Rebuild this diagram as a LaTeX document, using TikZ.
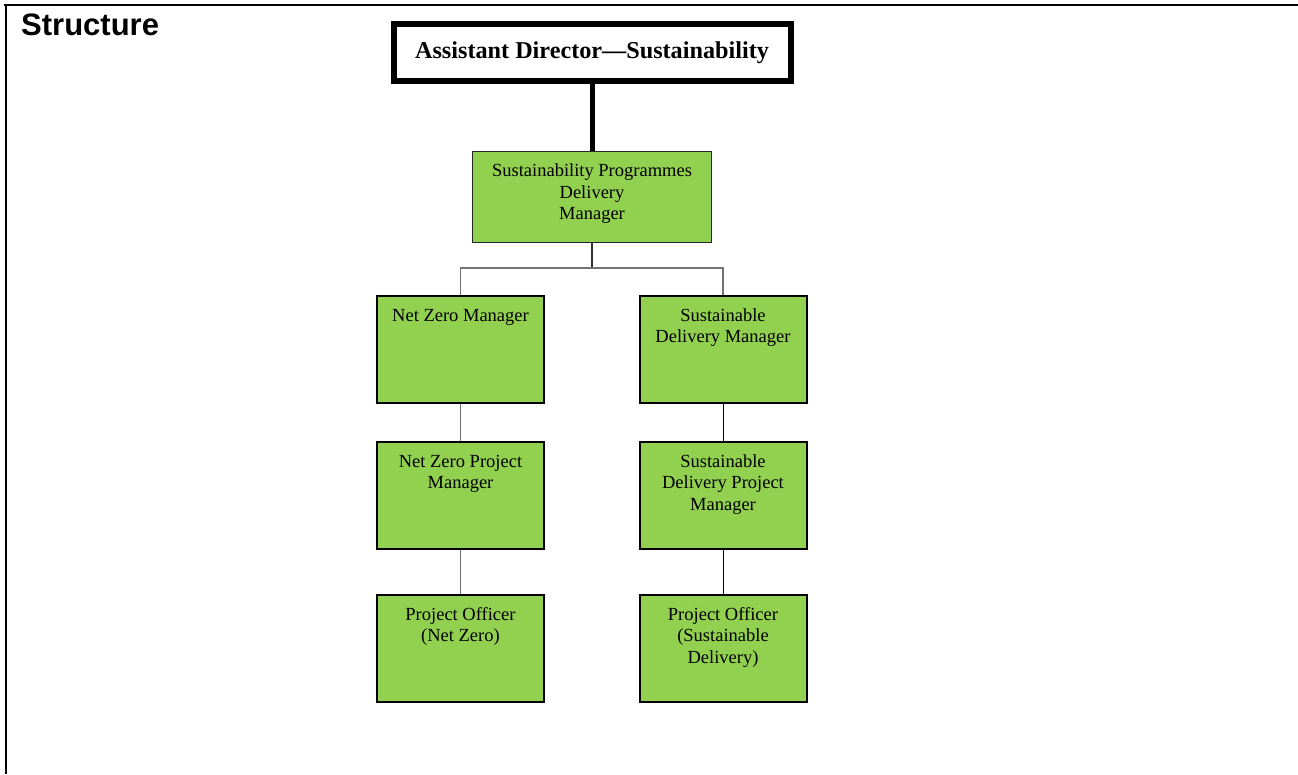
\documentclass[tikz,border=0pt]{standalone}
\usepackage{fontspec}
\setmainfont{Liberation Serif}
\newfontfamily\arialf{Liberation Sans}
\definecolor{boxgreen}{HTML}{92D050}
\newcommand{\orgtxt}[4]{\parbox[c][#2pt][t]{#1pt}{\centering\fontsize{18.5}{21.5}\selectfont\rule{0pt}{#3pt}#4\par}}
\tikzset{
  box/.style={draw=black, line width=2pt, fill=boxgreen, inner sep=0pt, anchor=north},
  conng/.style={draw=black!55, line width=1.3pt},
  connk/.style={draw=black, line width=1pt},
  frame/.style={draw=black, line width=2.4pt}
}
\begin{document}
\begin{tikzpicture}[x=1pt,y=-1pt]
\useasboundingbox (0,0) rectangle (1298,774);
% frame
\coordinate (ftl) at (4,5);
\coordinate (ftr) at (1298,5);
\coordinate (fl1) at (6,4);
\coordinate (fl2) at (6,774);
\draw[frame] (ftl) -- (ftr);
\draw[frame] (fl1) -- (fl2);
\node[anchor=base west, inner sep=0pt, font=\arialf\bfseries\fontsize{31}{35}\selectfont] (title) at (21,35.5) {Structure};
% top box
\node[draw=black, line width=6pt, fill=white, inner sep=0pt, minimum width=397pt, minimum height=57pt, anchor=center,
      font=\bfseries\fontsize{24.2}{27}\selectfont] (ad) at (592,52.5) {Assistant Director---Sustainability};
% middle box
\node[box, line width=1.2pt, draw=black!85] (mid) at (592,150.5) {\orgtxt{239}{91}{25.5}{Sustainability Programmes\\Delivery\\Manager}};
% row 1
\node[box] (nz1) at (460.5,295) {\orgtxt{167}{107}{25}{Net Zero Manager}};
\node[box] (sd1) at (723,295) {\orgtxt{167}{107}{25}{Sustainable\\Delivery Manager}};
% row 2
\node[box] (nz2) at (460.5,441) {\orgtxt{167}{107}{25}{Net Zero Project\\Manager}};
\node[box] (sd2) at (723,441) {\orgtxt{167}{107}{25}{Sustainable\\Delivery Project\\Manager}};
% row 3
\node[box] (nz3) at (460.5,594) {\orgtxt{167}{107}{25}{Project Officer\\(Net Zero)}};
\node[box] (sd3) at (723,594) {\orgtxt{167}{107}{25}{Project Officer\\(Sustainable\\Delivery)}};
% connectors
\coordinate (bus) at (592,268);
\draw[line width=5pt] (ad.south) -- (mid.north);
\draw[draw=black!80, line width=1.4pt] (mid.south) -- (bus);
\draw[conng] (bus) -| (nz1.north);
\draw[conng] (bus) -| (sd1.north);
\draw[conng] (nz1.south) -- (nz2.north);
\draw[conng] (nz2.south) -- (nz3.north);
\draw[connk] (sd1.south) -- (sd2.north);
\draw[connk] (sd2.south) -- (sd3.north);
\end{tikzpicture}
\end{document}
